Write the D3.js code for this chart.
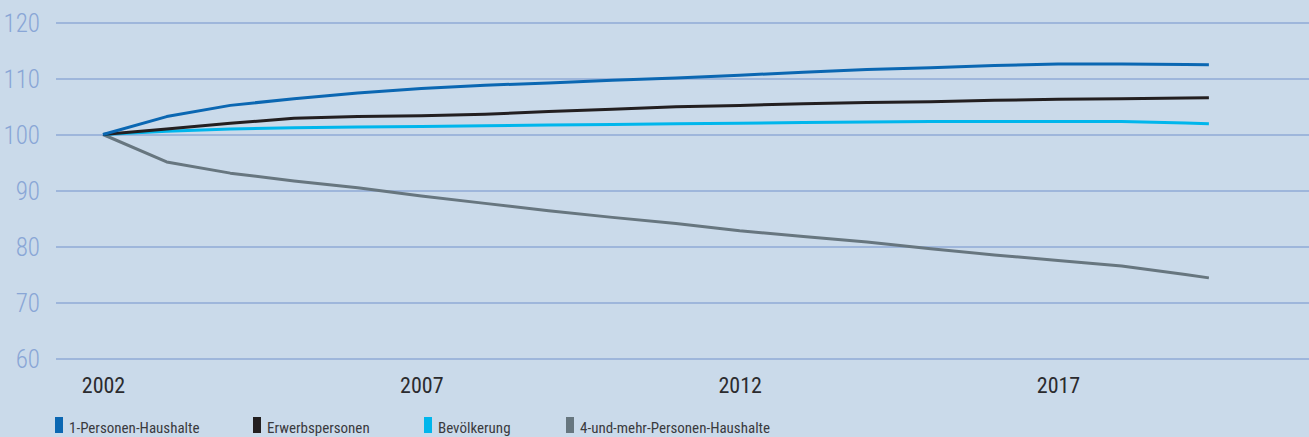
<!DOCTYPE html>
<html>
<head>
<meta charset="utf-8">
<script src="https://d3js.org/d3.v7.min.js"></script>
<style>
  body { margin:0; background-color:#cadaea; }
  svg { display:block; font-family:"Liberation Sans Narrow","Roboto Condensed","DejaVu Sans Condensed",sans-serif; }
</style>
</head>
<body>
<svg id="chart" width="1309" height="437"></svg>
<script>

// years (last value is where the series stop on the time axis)
var years = [2002,2003,2004,2005,2006,2007,2008,2009,2010,2011,2012,2013,2014,2015,2016,2017,2018,2019,2019.37];

var einPersonen   = [100,103.2,105.2,106.4,107.4,108.2,108.8,109.2,109.7,110.1,110.6,111.1,111.6,111.9,112.3,112.6,112.6,112.5,112.45];
var erwerb        = [100,101.0,102.0,102.9,103.2,103.35,103.6,104.1,104.5,104.95,105.2,105.5,105.7,105.85,106.1,106.3,106.4,106.5,106.55];
var bevoelkerung  = [100,100.6,101.0,101.2,101.35,101.45,101.55,101.7,101.8,101.9,102.0,102.15,102.25,102.3,102.3,102.3,102.3,102.05,101.9];
var vierPersonen  = [100,95.1,93.1,91.7,90.5,89.0,87.7,86.4,85.2,84.1,82.8,81.8,80.8,79.6,78.5,77.5,76.5,75.0,74.4];

var yTicks = [60,70,80,90,100,110,120];
var xTicks = [2002,2007,2012,2017];

var seriesNames  = ["1-Personen-Haushalte","Erwerbspersonen","Bevölkerung","4-und-mehr-Personen-Haushalte"];
var seriesValues = [einPersonen, erwerb, bevoelkerung, vierPersonen];
var seriesColors = ["#0b67b2","#231f20","#00b6ec","#67767f"];

var svg = d3.select("#chart"),
    width = +svg.attr("width"),
    height = +svg.attr("height");

var x = d3.scaleLinear().domain([2002, 2017]).range([103, 1058]);
var y = d3.scaleLinear().domain([60, 120]).range([358.5, 22.5]);

// gridlines + y labels
var yAxis = svg.append("g")
    .call(d3.axisLeft(y).tickValues(yTicks).tickSize(-(width - 56)).tickPadding(16))
    .attr("transform", "translate(56,0)")
    .attr("font-family", null)
    .attr("font-size", null);
yAxis.select(".domain").remove();
yAxis.selectAll(".tick line")
    .attr("stroke", "#8faad6")
    .attr("stroke-width", 1.5);
yAxis.selectAll(".tick text")
    .attr("fill", "#89a6d6")
    .attr("font-size", "25px")
    .attr("font-weight", 300)
    .attr("dy", "0.36em");

// x labels
var xAxis = svg.append("g")
    .attr("transform", "translate(0,377)")
    .call(d3.axisBottom(x).tickValues(xTicks).tickFormat(d3.format("d")).tickSize(0).tickPadding(0))
    .attr("font-family", null)
    .attr("font-size", null);
xAxis.select(".domain").remove();
xAxis.selectAll(".tick text")
    .attr("fill", "#2b2b2e")
    .attr("font-size", "22px")
    .attr("dy", "0.71em");

var line = d3.line()
    .x(function(d, i) { return x(years[i]); })
    .y(function(d) { return y(d); });

// draw order: gray first, then others on top
[3, 2, 1, 0].forEach(function(k) {
  svg.append("path")
      .datum(seriesValues[k])
      .attr("fill", "none")
      .attr("stroke", seriesColors[k])
      .attr("stroke-width", 3)
      .attr("stroke-linejoin", "round")
      .attr("d", line);
});

// legend
var legendX = [55, 253, 424, 566];
var legend = svg.selectAll(".legend")
    .data(seriesNames)
    .enter().append("g")
      .attr("class", "legend")
      .attr("transform", function(d, i) { return "translate(" + legendX[i] + ",417)"; });

legend.append("rect")
    .attr("width", 8)
    .attr("height", 16)
    .attr("fill", function(d, i) { return seriesColors[i]; });

legend.append("text")
    .attr("x", 14)
    .attr("y", 15.5)
    .attr("fill", "#3a3a3e")
    .attr("font-size", "15px")
    .text(function(d) { return d; });

</script>
</body>
</html>
